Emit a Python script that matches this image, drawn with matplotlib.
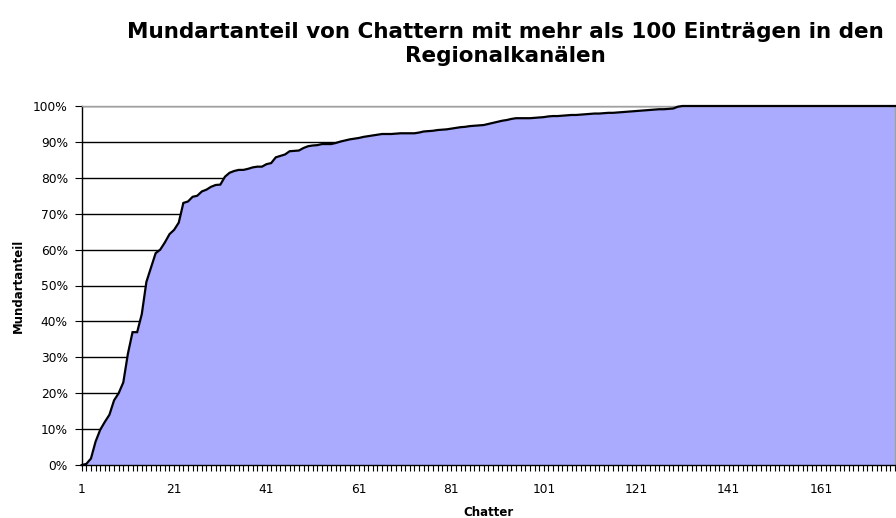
import matplotlib
matplotlib.use("Agg")
import matplotlib.pyplot as plt
from matplotlib.ticker import FixedLocator, FuncFormatter

plt.rcParams['font.family'] = ['DejaVu Sans']

title = "Mundartanteil von Chattern mit mehr als 100 Einträgen in den\nRegionalkanälen"
x_label = "Chatter"
y_label = "Mundartanteil"

# Mundart share (%) per chatter, sorted ascending
mundartanteil = [
    0, 0.3, 1.8, 6.5, 9.8, 12, 14, 18, 20, 23,
    31, 37, 37, 42, 51, 55, 59, 60, 62, 64.3,
    65.5, 67.5, 73, 73.4, 74.7, 75, 76.2, 76.7, 77.5, 78,
    78.1, 80.3, 81.4, 81.9, 82.2, 82.2, 82.5, 82.9, 83.1, 83.1,
    83.8, 84.1, 85.7, 86.1, 86.5, 87.4, 87.5, 87.6, 88.3, 88.8,
    89, 89.1, 89.4, 89.4, 89.4, 89.7, 90.1, 90.4, 90.7, 90.9,
    91.1, 91.4, 91.6, 91.8, 92, 92.2, 92.2, 92.2, 92.3, 92.4,
    92.4, 92.4, 92.4, 92.6, 92.9, 93, 93.1, 93.3, 93.4, 93.5,
    93.7, 93.9, 94.1, 94.2, 94.4, 94.5, 94.6, 94.7, 95, 95.3,
    95.6, 95.9, 96.1, 96.4, 96.6, 96.6, 96.6, 96.6, 96.7, 96.8,
    96.9, 97.1, 97.2, 97.2, 97.3, 97.4, 97.5, 97.5, 97.6, 97.7,
    97.8, 97.9, 97.9, 98, 98.1, 98.1, 98.2, 98.3, 98.4, 98.5,
    98.6, 98.7, 98.8, 98.9, 99, 99.1, 99.1, 99.2, 99.3, 99.8,
    100, 100, 100, 100, 100, 100, 100, 100, 100, 100,
    100, 100, 100, 100, 100, 100, 100, 100, 100, 100,
    100, 100, 100, 100, 100, 100, 100, 100, 100, 100,
    100, 100, 100, 100, 100, 100, 100, 100, 100, 100,
    100, 100, 100, 100, 100, 100, 100,
]
chatter = list(range(1, len(mundartanteil) + 1))
x_tick_labels = [1, 21, 41, 61, 81, 101, 121, 141, 161]
y_ticks = [0, 10, 20, 30, 40, 50, 60, 70, 80, 90, 100]

W, H = 896, 518
fig = plt.figure(figsize=(W / 100, H / 100), dpi=100)
ax = fig.add_axes([81.7 / W, 1 - 465 / H, (895 - 81.7) / W, (465 - 106) / H])

ax.fill_between(chatter, 0, mundartanteil, color="#AAAAFF", linewidth=0, zorder=2)
ax.plot(chatter, mundartanteil, color="black", linewidth=1.6, zorder=3, clip_on=False,
        solid_joinstyle="miter")

ax.set_xlim(chatter[0], chatter[-1])
ax.set_ylim(0, 100)

ax.set_yticks(y_ticks)
ax.yaxis.set_major_formatter(FuncFormatter(lambda v, p: f"{int(v)}%"))
ax.grid(axis="y", color="black", linewidth=1.0, zorder=1)
ax.set_axisbelow(True)

ax.xaxis.set_major_locator(FixedLocator(chatter))
ax.xaxis.set_major_formatter(FuncFormatter(
    lambda v, p: str(int(v)) if int(round(v)) in x_tick_labels else ""))

ax.tick_params(axis="x", length=4, width=0.8, color="black", labelsize=8.8, pad=9)
ax.tick_params(axis="y", length=5, width=0.8, color="black", labelsize=8.8, pad=5)

for s in ["top", "right"]:
    ax.spines[s].set_color("#A0A0A0")
    ax.spines[s].set_linewidth(1.0)
ax.spines["left"].set_color("black")
ax.spines["bottom"].set_color("black")
ax.spines["left"].set_linewidth(1.0)
ax.spines["bottom"].set_linewidth(1.0)

ax.set_xlabel(x_label, fontsize=8.5, fontweight="bold", labelpad=7)
ax.set_ylabel(y_label, fontsize=8.5, fontweight="bold", labelpad=6)

fig.text(505 / W, 1 - 44 / H, title, ha="center", va="center",
         fontsize=15.5, fontweight="bold", linespacing=1.2)

fig.savefig("out.png", dpi=100)
